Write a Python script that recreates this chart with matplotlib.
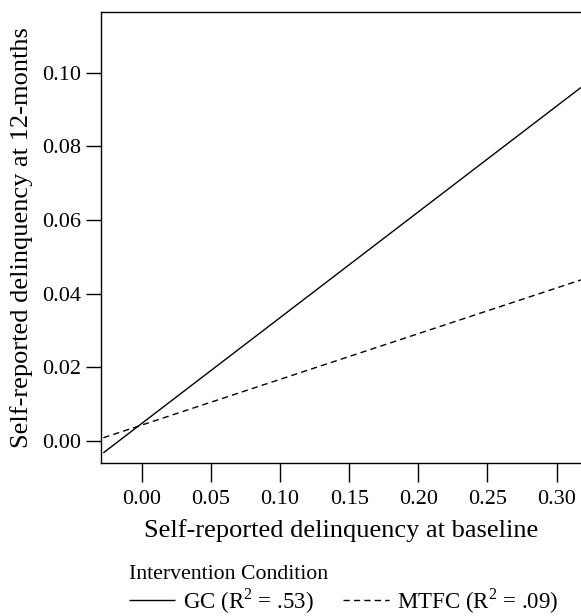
import matplotlib
matplotlib.use('Agg')
import matplotlib.pyplot as plt

plt.rcParams['font.family'] = ['Liberation Serif', 'DejaVu Serif']
plt.rcParams['mathtext.fontset'] = 'custom'
plt.rcParams['mathtext.rm'] = 'Liberation Serif'

# regression lines (endpoints at the plot edges)
baseline = [-0.0277, 0.3176]
gc_fit = [-0.0033, 0.0960]
mtfc_fit = [0.0008, 0.0437]
labels = [r'GC ($\mathrm{R}^{2}$ = .53)', r'MTFC ($\mathrm{R}^{2}$ = .09)']
xticks = [0.00, 0.05, 0.10, 0.15, 0.20, 0.25, 0.30]
yticks = [0.00, 0.02, 0.04, 0.06, 0.08, 0.10]

fig = plt.figure(figsize=(5.81, 6.16), dpi=100)
ax = fig.add_axes([101 / 581, 1 - 463 / 616, 1 - 101 / 581, (463 - 12) / 616])

l1, = ax.plot(baseline, gc_fit, color='black', lw=1.0, solid_capstyle='butt')
l2, = ax.plot(baseline, mtfc_fit, color='black', lw=1.0, ls=(0, (4.5, 3)))

ax.set_xlim(-0.0294, 0.3176)
ax.set_ylim(-0.00606, 0.1165)
ax.set_xticks(xticks)
ax.set_yticks(yticks)
ax.set_xticklabels(['%.2f' % v for v in xticks])
ax.set_yticklabels(['%.2f' % v for v in yticks])
ax.tick_params(axis='x', length=13.7, width=1.0, pad=6, labelsize=16)
ax.tick_params(axis='y', length=10.6, width=1.0, pad=4, labelsize=16)
ax.spines['right'].set_visible(False)
for s in ['left', 'top', 'bottom']:
    ax.spines[s].set_linewidth(1.0)

ax.set_xlabel('Self-reported delinquency at baseline', fontsize=19, labelpad=7)
ax.set_ylabel('Self-reported delinquency at 12-months', fontsize=19, labelpad=6)

leg = fig.legend([l1, l2], labels, title='Intervention Condition',
                 loc='upper left', bbox_to_anchor=(129 / 581, 1 - 565 / 616),
                 ncol=2, frameon=False, fontsize=16.5, title_fontsize=15.7,
                 handlelength=2.0, handletextpad=0.35, columnspacing=1.3,
                 borderaxespad=0, borderpad=0, labelspacing=0.1,
                 alignment='left')

fig.savefig('out.png', dpi=100)
